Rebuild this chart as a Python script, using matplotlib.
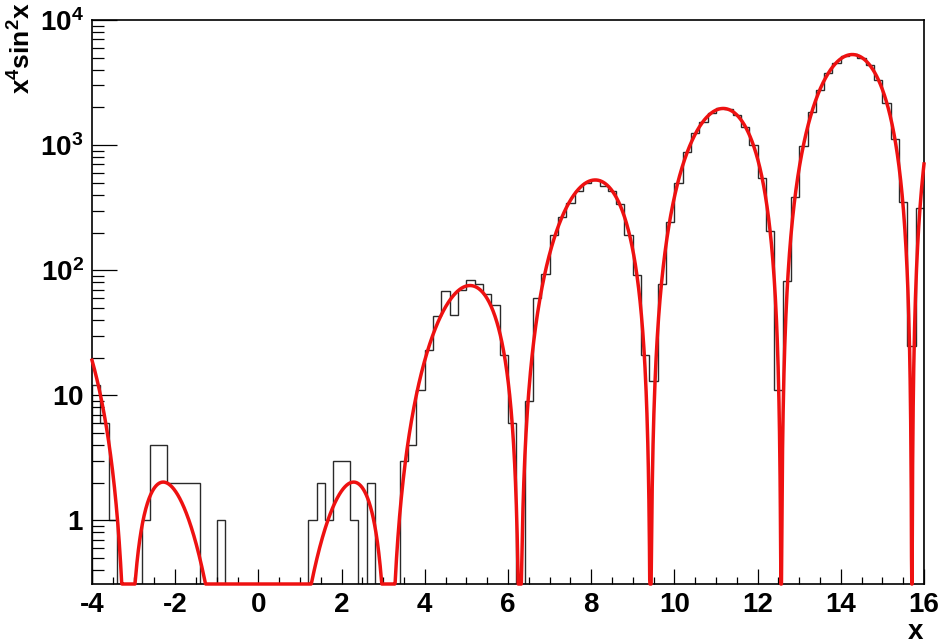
import numpy as np
import matplotlib
matplotlib.use("Agg")
import matplotlib.pyplot as plt
from matplotlib.ticker import FixedLocator, MultipleLocator, NullFormatter

plt.rcParams['font.family'] = ['Liberation Sans', 'DejaVu Sans']
plt.rcParams['font.weight'] = 'bold'
plt.rcParams['mathtext.fontset'] = 'custom'
plt.rcParams['mathtext.rm'] = 'Liberation Sans:bold'
plt.rcParams['mathtext.bf'] = 'Liberation Sans:bold'
plt.rcParams['mathtext.it'] = 'Liberation Sans:bold'
plt.rcParams['mathtext.default'] = 'bf'

# histogram: 100 bins from -4 to 16, counts
x_lo, x_hi, n_bins = -4.0, 16.0, 100
counts = np.array([
    12, 6, 1, 0, 0, 0, 1, 4, 4, 2,
    2, 2, 2, 0, 0, 1, 0, 0, 0, 0,
    0, 0, 0, 0, 0, 0, 1, 2, 1, 3,
    3, 1, 0, 2, 0, 0, 0, 3, 4, 11,
    23, 43, 68, 44, 69, 84, 77, 64, 53, 21,
    6, 0, 9, 60, 93, 190, 268, 345, 428, 498,
    522, 470, 428, 340, 190, 92, 21, 13, 78, 245,
    500, 885, 1240, 1540, 1800, 1970, 1940, 1750, 1400, 1000,
    545, 205, 11, 82, 388, 985, 1830, 2780, 3770, 4560,
    5150, 5310, 5000, 4330, 3340, 2190, 1120, 350, 25, 316,
], dtype=float)

# fitted curve p0 * x^4 * sin^2(x), p0 read from the peaks
fit_norm = 0.13

y_min, y_max = 0.31, 1.0e4
y_ticks = [1, 10, 100, 1000, 10000]
y_tick_labels = [r'$1$', r'$10$', r'$10^{2}$', r'$10^{3}$', r'$10^{4}$']
x_ticks = np.arange(-4, 17, 2)

fig = plt.figure(figsize=(9.4, 6.44), dpi=100)
ax = fig.add_axes([92 / 940, 1 - 584 / 644, (924 - 92) / 940, (584 - 20) / 644])

edges = np.linspace(x_lo, x_hi, n_bins + 1)
shown = np.where(counts > 0, counts, y_min)
ax.stairs(shown, edges, baseline=y_min, color='#2a2a2a', lw=1.0)

xs = np.linspace(x_lo, x_hi, 3001)
ys = fit_norm * xs**4 * np.sin(xs)**2
ys = np.maximum(ys, y_min)
ax.plot(xs, ys, color='#ee1111', lw=2.5, clip_on=False, zorder=3)

ax.set_yscale('log')
ax.set_xlim(x_lo, x_hi)
ax.set_ylim(y_min, y_max)

ax.xaxis.set_major_locator(FixedLocator(x_ticks))
ax.xaxis.set_minor_locator(MultipleLocator(0.5))
ax.set_xticklabels([str(t) for t in x_ticks])

ax.yaxis.set_major_locator(FixedLocator(y_ticks))
minor = [m * 10.0**d for d in range(-1, 4) for m in range(2, 10)]
ax.yaxis.set_minor_locator(FixedLocator(minor))
ax.yaxis.set_minor_formatter(NullFormatter())
ax.set_yticklabels(y_tick_labels)

ax.tick_params(axis='x', which='major', direction='in', length=10.5, width=0.9,
               labelsize=20, pad=6)
ax.tick_params(axis='x', which='minor', direction='in', length=5.4, width=0.9)
ax.tick_params(axis='y', which='major', direction='in', length=18, width=0.9,
               labelsize=20, pad=6)
ax.tick_params(axis='y', which='minor', direction='in', length=8.6, width=0.9)
ax.tick_params(top=False, right=False, which='both')

for s in ax.spines.values():
    s.set_linewidth(1.2)

fig.text(22 / 940, 1 - 2 / 644, r'$x^{4}sin^{2}x$', rotation=90,
         ha='center', va='top', fontsize=19)
fig.text(915 / 940, 1 - 632 / 644, 'x', ha='center', va='center',
         fontsize=20, fontweight='bold')

fig.savefig('out.png', dpi=100)
